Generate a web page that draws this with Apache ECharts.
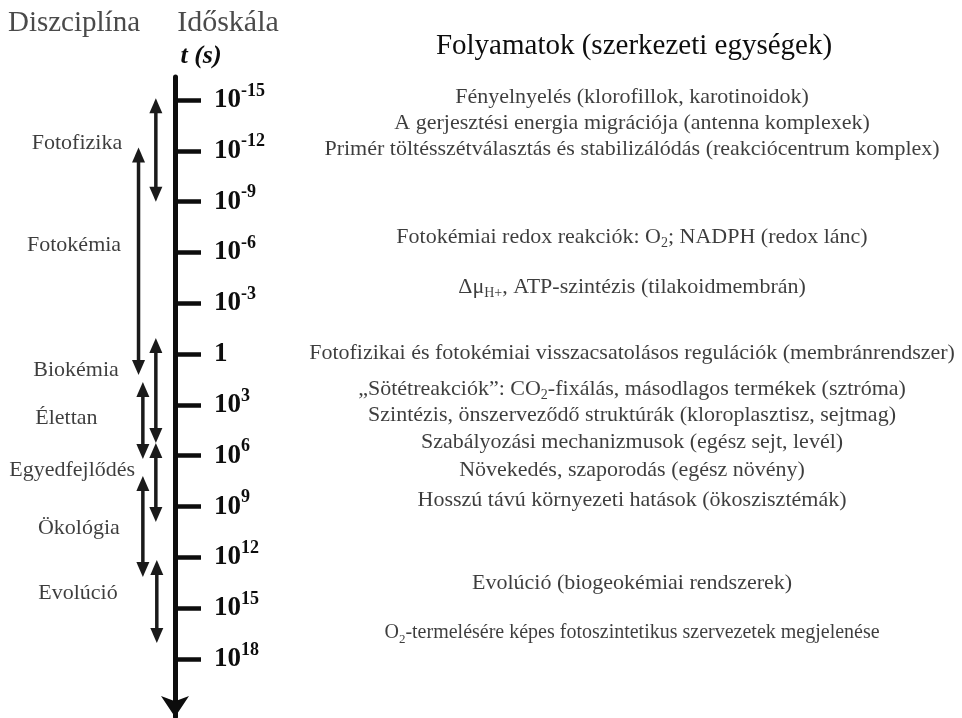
<!DOCTYPE html>
<html>
<head>
<meta charset="utf-8">
<script src="https://cdn.jsdelivr.net/npm/echarts@6/dist/echarts.min.js"></script>
<style>
  html, body { margin: 0; padding: 0; background: #fff; }
  #chart { width: 962px; height: 718px; }
</style>
</head>
<body>
<div id="chart"></div>
<script>
// time axis: exponent of t (s), ticks every 3 orders of magnitude
var tickExp = [-15, -12, -9, -6, -3, 0, 3, 6, 9, 12, 15, 18];
var tickLabels = ['10{s|-15}', '10{s|-12}', '10{s|-9}', '10{s|-6}', '10{s|-3}', '1',
  '10{s|3}', '10{s|6}', '10{s|9}', '10{s|12}', '10{s|15}', '10{s|18}'];

// disciplines (label position on the time axis)
var disciplines = ['Fotofizika', 'Fotokémia', 'Biokémia', 'Élettan', 'Egyedfejlődés', 'Ökológia', 'Evolúció'];
var disciplineT = [-12.46, -6.44, 0.94, 3.77, 6.84, 10.27, 14.1];

// double arrows: time span (exponents)
var arrowFrom = [-15.1, -12.2, -0.95, 1.65, 5.25, 7.2, 12.15];
var arrowTo = [-9.0, 1.23, 5.25, 6.19, 9.91, 13.16, 17.05];

// processes on the right
var processes = [
  'Fényelnyelés (klorofillok, karotinoidok)',
  'A gerjesztési energia migrációja (antenna komplexek)',
  'Primér töltésszétválasztás és stabilizálódás (reakciócentrum komplex)',
  'Fotokémiai redox reakciók: O{sub|2}; NADPH (redox lánc)',
  'Δμ{sub|H+}, ATP-szintézis (tilakoidmembrán)',
  'Fotofizikai és fotokémiai visszacsatolásos regulációk (membránrendszer)',
  '„Sötétreakciók”: CO{sub|2}-fixálás, másodlagos termékek (sztróma)',
  'Szintézis, önszerveződő struktúrák (kloroplasztisz, sejtmag)',
  'Szabályozási mechanizmusok (egész sejt, levél)',
  'Növekedés, szaporodás (egész növény)',
  'Hosszú távú környezeti hatások (ökoszisztémák)',
  'Evolúció (biogeokémiai rendszerek)',
  'O{sub|2}-termelésére képes fotoszintetikus szervezetek megjelenése'
];
var processT = [-15.18, -13.64, -12.11, -6.91, -3.96, -0.07, 2.06, 3.59, 5.19, 6.84, 8.61, 13.51, 16.46];

// layout (overlay x axis runs 0..100 across the page)
var serif = "'Times New Roman', 'Liberation Serif', serif";
var arrowX = [16.2, 14.4, 16.2, 14.85, 16.2, 14.85, 16.3];
var discLabelX = [8.0, 7.7, 7.9, 6.9, 7.5, 8.2, 8.1];
var processX = 65.7;
var axisMin = -16.358, axisMax = 21.424;
var ink = '#0d0d0d';

var chart = echarts.init(document.getElementById('chart'));

function renderArrow(params, api) {
  var x = api.value(0);
  var a = api.coord([x, api.value(1)]);
  var b = api.coord([x, api.value(2)]);
  var head = 15, half = 6.5, col = '#1a1a1a';
  return {
    type: 'group',
    children: [
      { type: 'line', shape: { x1: a[0], y1: a[1] + head - 2, x2: b[0], y2: b[1] - head + 2 },
        style: { stroke: col, lineWidth: 3.5 } },
      { type: 'polygon', shape: { points: [[a[0], a[1]], [a[0] - half, a[1] + head], [a[0] + half, a[1] + head]] },
        style: { fill: col } },
      { type: 'polygon', shape: { points: [[b[0], b[1]], [b[0] - half, b[1] - head], [b[0] + half, b[1] - head]] },
        style: { fill: col } }
    ]
  };
}

var option = {
  backgroundColor: '#fff',
  animation: false,
  graphic: [
    { type: 'text', x: 74, y: 23, style: { text: 'Diszciplína', font: '29px ' + serif, fill: '#4a4a4a', textAlign: 'center', textVerticalAlign: 'middle' } },
    { type: 'text', x: 228, y: 23, style: { text: 'Időskála', font: '30px ' + serif, fill: '#4a4a4a', textAlign: 'center', textVerticalAlign: 'middle' } },
    { type: 'text', x: 201, y: 56, style: { text: 't (s)', font: 'italic bold 26px ' + serif, fill: ink, textAlign: 'center', textVerticalAlign: 'middle' } },
    { type: 'text', x: 634, y: 46, style: { text: 'Folyamatok (szerkezeti egységek)', font: '29px ' + serif, fill: ink, textAlign: 'center', textVerticalAlign: 'middle' } }
  ],
  grid: [
    { left: 175, top: 77, width: 20, height: 640 },
    { left: 0, top: 77, width: 962, height: 640 }
  ],
  xAxis: [
    { gridIndex: 0, type: 'value', show: false, min: 0, max: 1 },
    { gridIndex: 1, type: 'value', show: false, min: 0, max: 100 }
  ],
  yAxis: [
    {
      gridIndex: 0, type: 'value', inverse: true, min: axisMin, max: axisMax,
      splitLine: { show: false },
      axisLine: { show: true, symbol: ['arrow', 'none'], symbolSize: [21, 21],
        lineStyle: { color: ink, width: 5 } },
      axisTick: { show: true, inside: true, length: 26, customValues: tickExp,
        lineStyle: { color: ink, width: 4.5 } },
      axisLabel: {
        show: true, inside: true, margin: 39, customValues: tickExp,
        fontFamily: serif, fontSize: 27, fontWeight: 'bold', color: ink, lineHeight: 36,
        formatter: function (v) {
          var i = tickExp.indexOf(Math.round(v));
          return i < 0 ? '' : tickLabels[i];
        },
        rich: {
          s: { fontFamily: serif, fontSize: 18, fontWeight: 'bold', color: ink, lineHeight: 18, verticalAlign: 'top' }
        }
      }
    },
    { gridIndex: 1, type: 'value', show: false, inverse: true, min: axisMin, max: axisMax }
  ],
  series: [
    {
      type: 'custom', xAxisIndex: 1, yAxisIndex: 1, silent: true,
      renderItem: renderArrow,
      encode: { x: 0, y: [1, 2] },
      data: arrowFrom.map(function (f, i) { return [arrowX[i], f, arrowTo[i]]; })
    },
    {
      type: 'scatter', xAxisIndex: 1, yAxisIndex: 1, symbolSize: 0, silent: true,
      data: disciplines.map(function (n, i) { return { name: n, value: [discLabelX[i], disciplineT[i]] }; }),
      label: { show: true, position: 'inside', formatter: '{b}', fontFamily: serif, fontSize: 22, color: ink }
    },
    {
      type: 'scatter', xAxisIndex: 1, yAxisIndex: 1, symbolSize: 0, silent: true,
      data: processes.map(function (t, i) {
        var small = i === processes.length - 1;
        return {
          value: [processX, processT[i]],
          label: small ? {
            fontSize: 20, color: ink,
            rich: { sub: { fontFamily: serif, fontSize: 13, lineHeight: 13, verticalAlign: 'bottom', color: ink } }
          } : undefined
        };
      }),
      label: {
        show: true, position: 'inside', fontFamily: serif, fontSize: 22, color: ink, lineHeight: 26,
        formatter: function (p) { return processes[p.dataIndex]; },
        rich: {
          sub: { fontFamily: serif, fontSize: 14, lineHeight: 14, verticalAlign: 'bottom', color: ink }
        }
      }
    }
  ]
};

chart.setOption(option);
</script>
</body>
</html>
